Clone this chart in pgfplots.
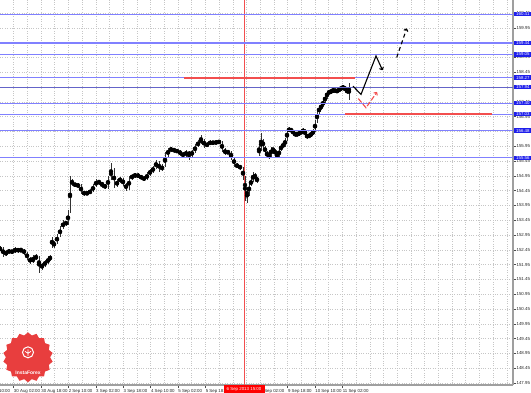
\documentclass[border=0pt]{standalone}
\usepackage{pgfplots}
\pgfplotsset{compat=1.18}
\usepackage{pgfplotstable}
\usepackage{fontspec}
\setmainfont{Liberation Sans}
\usetikzlibrary{shapes.geometric,arrows.meta}
\definecolor{lvl}{RGB}{128,128,255}
\definecolor{lvldark}{RGB}{100,100,200}
\definecolor{boxblue}{RGB}{30,30,235}
\definecolor{mtred}{RGB}{242,78,78}
\definecolor{logored}{RGB}{232,62,62}
\definecolor{candle}{RGB}{50,50,50}
\newcommand{\tinyf}{\fontsize{4.4}{5}\selectfont}

\pgfplotstableread{
x o h l c
0 152.45 152.58 152.40 152.51
3 152.51 152.55 152.22 152.28
6 152.28 152.44 152.24 152.38
9 152.38 152.47 152.33 152.41
12 152.41 152.46 152.31 152.38
15 152.38 152.55 152.34 152.48
18 152.48 152.52 152.36 152.41
21 152.41 152.53 152.37 152.45
24 152.45 152.49 152.28 152.34
27 152.34 152.39 152.10 152.17
30 152.17 152.22 151.97 152.04
33 152.04 152.28 152.00 152.17
36 152.17 152.30 152.12 152.21
39 152.21 152.25 151.67 151.84
42 151.84 152.02 151.78 151.94
45 151.94 152.10 151.88 152.04
48 152.04 152.20 151.98 152.14
50 152.14 152.27 152.08 152.21
52 152.85 152.90 152.50 152.58
54 152.58 152.76 152.52 152.70
57 152.70 152.98 152.65 152.92
60 152.92 153.25 152.88 153.19
63 153.19 153.46 153.14 153.39
66 153.39 153.44 153.26 153.32
68 153.32 153.80 153.28 153.73
70 153.73 154.94 153.68 154.81
72 154.81 154.85 154.60 154.67
75 154.67 154.72 154.58 154.64
78 154.64 154.70 154.55 154.61
81 154.61 154.66 154.35 154.40
84 154.40 154.45 154.28 154.34
87 154.34 154.43 154.30 154.37
90 154.37 154.50 154.32 154.44
93 154.44 154.66 154.40 154.61
96 154.61 154.85 154.56 154.78
99 154.78 154.82 154.64 154.71
102 154.71 154.75 154.55 154.64
105 154.64 154.68 154.50 154.57
108 154.57 154.95 154.52 154.88
111 154.88 155.38 154.82 155.15
114 155.15 155.20 154.55 154.61
117 154.61 154.85 154.56 154.78
120 154.78 154.92 154.72 154.84
123 154.84 154.88 154.60 154.67
126 154.67 154.72 154.45 154.51
129 154.51 154.94 154.47 154.88
132 154.88 155.01 154.82 154.94
135 154.94 155.05 154.89 154.98
138 154.98 155.03 154.88 154.94
141 154.94 154.99 154.82 154.88
144 154.88 154.93 154.78 154.84
147 154.84 155.07 154.80 155.01
150 155.01 155.18 154.96 155.11
153 155.11 155.28 155.05 155.22
156 155.22 155.50 155.18 155.42
159 155.42 155.46 155.08 155.15
162 155.15 155.34 155.10 155.28
165 155.28 155.75 155.24 155.65
168 155.65 155.90 155.60 155.82
171 155.82 155.93 155.76 155.86
174 155.86 155.90 155.73 155.79
177 155.79 155.85 155.72 155.79
180 155.79 155.83 155.63 155.69
183 155.69 155.74 155.58 155.65
186 155.65 155.82 155.60 155.76
189 155.76 155.80 155.50 155.65
192 155.65 155.83 155.60 155.76
195 155.76 156.02 155.72 155.96
198 155.96 156.15 155.92 156.09
201 156.09 156.33 156.04 156.16
204 156.16 156.20 155.90 155.96
207 155.96 156.09 155.91 156.03
210 156.03 156.15 155.98 156.09
213 156.09 156.13 156.00 156.06
216 156.06 156.15 156.01 156.09
219 156.09 156.17 156.03 156.09
222 156.09 156.12 155.76 155.82
225 155.82 155.88 155.66 155.72
228 155.72 155.83 155.68 155.76
231 155.76 155.80 155.48 155.55
234 155.55 155.60 155.26 155.32
237 155.32 155.38 155.20 155.28
240 155.28 155.33 155.15 155.22
243 155.22 155.26 154.80 154.88
245 154.88 154.95 154.10 154.40
247 154.40 154.55 154.03 154.34
249 154.34 154.75 154.28 154.67
251 154.67 154.85 154.60 154.78
253 154.78 155.08 154.74 155.01
255 155.01 155.05 154.80 154.88
257 154.88 154.92 154.70 154.78
259 155.82 155.95 155.62 155.86
261 155.86 156.40 155.80 156.16
263 156.16 156.20 155.85 155.92
265 155.92 155.96 155.70 155.76
267 155.76 155.80 155.55 155.62
269 155.62 155.72 155.52 155.65
271 155.65 155.92 155.60 155.86
273 155.86 155.90 155.76 155.82
275 155.82 155.86 155.63 155.69
277 155.69 155.74 155.55 155.62
279 155.62 155.88 155.58 155.82
281 155.82 156.02 155.78 155.96
283 155.96 156.05 155.91 155.99
285 155.99 156.22 155.94 156.16
287 156.16 156.55 156.12 156.47
289 156.47 156.60 156.42 156.53
291 156.53 156.57 156.41 156.47
293 156.47 156.51 156.34 156.40
295 156.40 156.44 156.27 156.33
297 156.33 156.42 156.29 156.36
299 156.36 156.46 156.31 156.40
301 156.40 156.49 156.36 156.43
303 156.43 156.57 156.38 156.50
305 156.50 156.54 156.27 156.33
307 156.33 156.38 156.20 156.26
309 156.26 156.39 156.22 156.33
311 156.33 156.42 156.28 156.36
313 156.36 156.53 156.32 156.47
315 156.47 156.84 156.43 156.77
317 156.77 157.18 156.72 157.11
319 157.11 157.30 157.05 157.24
321 157.24 157.38 157.18 157.31
323 157.31 157.55 157.26 157.48
325 157.48 157.68 157.42 157.61
327 157.61 157.82 157.56 157.75
329 157.75 157.85 157.70 157.78
331 157.78 157.88 157.72 157.82
333 157.82 157.91 157.76 157.85
335 157.85 157.90 157.75 157.82
337 157.82 157.88 157.74 157.82
339 157.82 157.94 157.77 157.88
341 157.88 157.98 157.82 157.92
343 157.92 158.02 157.86 157.95
345 157.95 157.99 157.78 157.85
347 157.85 157.90 157.72 157.82
349 157.82 158.08 157.51 157.92
}\candles

\begin{document}
\begin{tikzpicture}[x=1bp,y=1bp]
\begin{axis}[
  at={(0,0)}, anchor=south west,
  scale only axis, width=513bp, height=385bp,
  xmin=0, xmax=513, ymin=147.885, ymax=160.89,
  axis x line*=bottom, axis y line*=right,
  axis line style={draw=gray!75, line width=1.4bp},
  tick align=outside, major tick length=3bp, minor tick length=0pt,
  tick style={draw=gray!60!black, line width=0.4bp},
  xtick={13.5,40.9,68.3,95.7,123.1,150.5,177.9,205.3,232.7,260.1,287.5,314.9,342.3},
  xticklabels={30 Aug 02:00,30 Aug 18:00,2 Sep 10:00,3 Sep 02:00,3 Sep 18:00,4 Sep 10:00,5 Sep 02:00,5 Sep 18:00,{},9 Sep 02:00,9 Sep 18:00,10 Sep 10:00,11 Sep 02:00},
  minor xtick={27.2,40.9,...,513},
  xticklabel style={font=\tinyf, text=gray!30!black, anchor=north west, inner sep=0pt, yshift=-0.8bp, xshift=0.3bp},
  ytick={147.95,148.45,...,160.5},
  yticklabel style={font=\tinyf, text=gray!30!black, anchor=west, inner sep=0.4bp},
  /pgf/number format/.cd, fixed, precision=2, fixed zerofill, assume math mode=true,
  /pgfplots/.cd,
  grid=both,
  major grid style={dotted, draw=gray!45, line width=0.4bp},
  minor grid style={dotted, draw=gray!45, line width=0.4bp},
  clip=true,
]
% candle wicks
\addplot[forget plot, only marks, mark=none,
  error bars/.cd, y dir=both, y explicit, error mark=none,
  error bar style={draw=candle, line width=0.4bp}]
  table[x=x, y expr={(\thisrow{h}+\thisrow{l})/2}, y error expr={(\thisrow{h}-\thisrow{l})/2}] {\candles};
% candle bodies
\addplot[forget plot, only marks, mark=none,
  error bars/.cd, y dir=both, y explicit, error mark=none,
  error bar style={draw=candle, line width=0.9bp}]
  table[x=x, y expr={(\thisrow{o}+\thisrow{c})/2}, y error expr={abs(\thisrow{o}-\thisrow{c})/2+0.008}] {\candles};

% red vertical line
\addplot[forget plot, draw=mtred, line width=0.7bp] coordinates {(244,147.885) (244,160.89)};

\coordinate (L1) at (axis cs:513,160.41);
\coordinate (L2) at (axis cs:513,159.44);
\coordinate (L3) at (axis cs:513,159.05);
\coordinate (L4) at (axis cs:513,158.27);
\coordinate (L5) at (axis cs:513,157.94);
\coordinate (L6) at (axis cs:513,157.40);
\coordinate (L7) at (axis cs:513,157.03);
\coordinate (L8) at (axis cs:513,156.48);
\coordinate (L9) at (axis cs:513,155.56);
\coordinate (R1a) at (axis cs:184,158.27);
\coordinate (R1b) at (axis cs:355,158.27);
\coordinate (R2a) at (axis cs:345,157.03);
\coordinate (R2b) at (axis cs:492,157.03);
\coordinate (A1) at (axis cs:353,157.98);
\coordinate (A2) at (axis cs:361,157.70);
\coordinate (A3) at (axis cs:376,159.00);
\coordinate (A4) at (axis cs:382.5,158.52);
\coordinate (D1) at (axis cs:396.7,158.95);
\coordinate (D2) at (axis cs:406.7,159.93);
\coordinate (E1) at (axis cs:358.3,157.56);
\coordinate (E2) at (axis cs:366,157.25);
\coordinate (E3) at (axis cs:377,157.78);
\coordinate (VB) at (axis cs:244,147.885);
\coordinate (FL) at (axis cs:-16.5,147.885);
\coordinate (LG) at (axis cs:28,148.82);
\coordinate (LT) at (axis cs:28,148.30);
\end{axis}

% horizontal levels, full width of the plot
\foreach \n in {L1,L2,L3,L4,L6,L7,L8,L9}{
  \draw[draw=lvl, line width=1.3bp] (\n -| 0,0) -- (\n);
}
\draw[draw=lvldark, line width=1.3bp] (L5 -| 0,0) -- (L5);
\draw[draw=mtred, line width=2bp] (R1a) -- (R1b);
\draw[draw=mtred, line width=2bp] (R2a) -- (R2b);

% forecast arrows
\draw[black, line width=1.1bp, -{To[length=3bp,width=5bp]}] (A1) -- (A2) -- (A3) -- (A4);
\draw[black, line width=1.1bp, dash pattern=on 4bp off 3bp, -{To[length=3bp,width=5bp]}] (D1) -- (D2);
\draw[mtred, line width=1.1bp, dash pattern=on 5bp off 2bp, -{To[length=3bp,width=5bp]}] (E1) -- (E2) -- (E3);

% price label boxes
\foreach \n/\t in {L1/160.41,L2/159.44,L3/159.05,L4/158.27,L5/157.94,L6/157.40,L7/157.03,L8/156.48,L9/155.56}{
  \node[fill=boxblue, text=white, font=\tinyf, inner xsep=1bp, inner ysep=0.6bp, minimum width=17bp, anchor=west] at ([xshift=1.2bp]\n) {\t};
}
% crosshair time label
\node[fill=red, text=white, font=\tinyf, minimum width=41bp, minimum height=7.5bp, inner sep=0pt, anchor=north] at ([yshift=-0.2bp]VB) {6 Sep 2013 15:00};
% first clipped label
\node[font=\tinyf, text=gray!30!black, anchor=north west, inner sep=0pt] at ([yshift=-3.8bp,xshift=0.3bp]FL) {29 Aug 10:00};
% logo
\node[star, star points=18, star point ratio=1.13, minimum size=50bp, fill=logored, draw=none, inner sep=0pt] at (LG) {};
\draw[white, line width=1bp] ([yshift=5bp]LG) circle (5.5bp);
\draw[white, line width=0.8bp] ([yshift=1.5bp]LG) -- ([yshift=8bp]LG) ([xshift=-3bp,yshift=6bp]LG) -- ([yshift=4bp]LG) -- ([xshift=3bp,yshift=6bp]LG);
\node[text=white, font=\fontsize{5}{6}\selectfont\bfseries, inner sep=0pt] at (LT) {InstaForex};

\pgfresetboundingbox
\path[use as bounding box] (0,-8bp) rectangle (531bp,385bp);
\end{tikzpicture}
\end{document}
